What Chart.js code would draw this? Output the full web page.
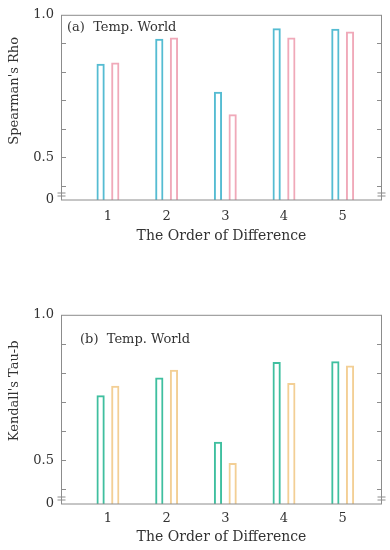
<!DOCTYPE html>
<html>
<head>
<meta charset="utf-8">
<script src="https://cdn.jsdelivr.net/npm/chart.js@4"></script>
<style>
  html, body { margin: 0; padding: 0; background: #fff; }
  .panel { position: absolute; left: 0; width: 390px; height: 250px; }
  #panelA { top: 0; }
  #panelB { top: 300px; }
</style>
</head>
<body>
<div class="panel" id="panelA"><canvas id="rhoChart"></canvas></div>
<div class="panel" id="panelB"><canvas id="tauChart"></canvas></div>
<script>
// data
const orders = [1, 2, 3, 4, 5];
const rhoSeries1 = [0.828, 0.916, 0.730, 0.953, 0.951];
const rhoSeries2 = [0.833, 0.920, 0.651, 0.920, 0.941];
const tauSeries1 = [0.724, 0.785, 0.564, 0.838, 0.840];
const tauSeries2 = [0.756, 0.811, 0.491, 0.766, 0.826];

// broken y axis: the lowest tick stands for 0
const yTicks = [0.35, 0.4, 0.5, 0.6, 0.7, 0.8, 0.9, 1.0];
const yTickLabels = ['0', '', '0.5', '', '', '', '', '1.0'];
const breakValue = 0.372;
const xTitle = 'The Order of Difference';

const serif = '"DejaVu Serif", "Liberation Serif", serif';
const textColor = '#333';
const frameColor = '#8c8c8c';

// frame, inward ticks, axis break, panel label and y title
const framePlugin = {
  id: 'frame',
  afterDraw(chart, args, opts) {
    const { ctx, chartArea: a } = chart;
    const y = chart.scales.y;
    const seg = (x1, y1, x2, y2) => { ctx.beginPath(); ctx.moveTo(x1, y1); ctx.lineTo(x2, y2); ctx.stroke(); };
    ctx.save();
    ctx.strokeStyle = frameColor;
    ctx.lineWidth = 1;
    ctx.strokeRect(a.left + 0.5, a.top + 0.5, a.right - a.left - 1, a.bottom - a.top - 0.5);
    yTicks.slice(1, -1).forEach(v => {
      const py = Math.round(y.getPixelForValue(v)) + 0.5;
      seg(a.left, py, a.left + 5, py);
      seg(a.right - 5, py, a.right, py);
    });
    const by = Math.round(y.getPixelForValue(breakValue)) + 0.5;
    [a.left + 0.5, a.right - 0.5].forEach(x => {
      seg(x - 4, by - 1.5, x + 4, by - 1.5);
      seg(x - 4, by + 1.5, x + 4, by + 1.5);
    });
    ctx.fillStyle = textColor;
    ctx.font = '13px ' + serif;
    ctx.textBaseline = 'middle';
    ctx.fillText(opts.text, a.left + opts.dx, a.top + opts.dy);
    // y axis title, sitting a little above the middle as in the original
    ctx.translate(15, a.top + opts.titleDy);
    ctx.rotate(-Math.PI / 2);
    ctx.textAlign = 'center';
    ctx.fillText(opts.yTitle, 0, 0);
    ctx.restore();
  }
};

function makeChart(id, yTitle, s1, s2, c1, c2, panel) {
  const ctx = document.getElementById(id).getContext('2d');
  return new Chart(ctx, {
    type: 'bar',
    data: {
      datasets: [
        {
          data: orders.map((o, i) => ({ x: o, y: s1[i] })),
          backgroundColor: 'rgba(0,0,0,0)',
          borderColor: c1,
          borderWidth: 2
        },
        {
          data: orders.map((o, i) => ({ x: o, y: s2[i] })),
          backgroundColor: 'rgba(0,0,0,0)',
          borderColor: c2,
          borderWidth: 2
        }
      ]
    },
    options: {
      responsive: true,
      maintainAspectRatio: false,
      animation: false,
      categoryPercentage: 0.5,
      barPercentage: 0.56,
      layout: { padding: { top: panel.top, right: 8, left: 0, bottom: 0 } },
      plugins: {
        legend: { display: false },
        tooltip: { enabled: false },
        frame: { text: panel.label, dx: panel.dx, dy: panel.dy, yTitle: yTitle, titleDy: panel.titleDy }
      },
      scales: {
        x: {
          type: 'linear',
          offset: false,
          min: 0.2,
          max: 5.67,
          grid: { display: false, offset: false, drawTicks: false },
          border: { display: false },
          afterBuildTicks: s => { s.ticks = orders.map(v => ({ value: v })); },
          afterFit: s => { s.height = panel.axisH; },
          ticks: { color: textColor, font: { family: serif, size: 13 }, padding: panel.tickPad },
          title: {
            display: true, text: xTitle, color: textColor,
            font: { family: serif, size: 14 }, padding: { top: 0, bottom: panel.titlePad }
          }
        },
        y: {
          min: 0.35,
          max: 1.0,
          grid: { display: false, drawTicks: false },
          border: { display: false },
          afterBuildTicks: s => { s.ticks = yTicks.map(v => ({ value: v })); },
          afterFit: s => { s.width = 61; },
          ticks: {
            color: textColor, font: { family: serif, size: 13 }, padding: 7,
            callback: (v, i) => yTickLabels[i]
          }
        }
      }
    },
    plugins: [framePlugin]
  });
}

makeChart('rhoChart', "Spearman's Rho", rhoSeries1, rhoSeries2, '#55bcd2', '#f0a9b9',
  { label: '(a)  Temp. World', dx: 6, dy: 13, top: 11, axisH: 50, tickPad: 9, titlePad: 5, titleDy: 76 });
makeChart('tauChart', "Kendall's Tau-b", tauSeries1, tauSeries2, '#3fbf9f', '#f3cf95',
  { label: '(b)  Temp. World', dx: 19, dy: 25, top: 14, axisH: 46, tickPad: 7, titlePad: 4, titleDy: 76 });
</script>
</body>
</html>
